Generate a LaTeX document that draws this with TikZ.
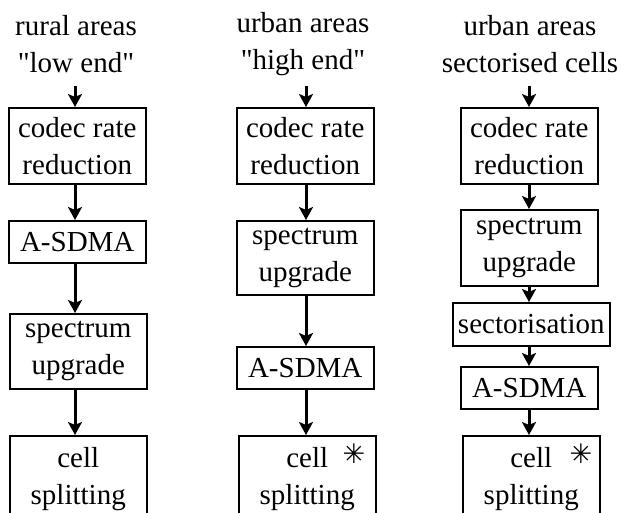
\documentclass[tikz,border=0pt]{standalone}
\usepackage{fontspec}
\setmainfont{Liberation Serif}[Ligatures=TeXOff]
\newfontfamily\symfont{DejaVu Sans}
\usetikzlibrary{arrows.meta}
\begin{document}
\begin{tikzpicture}[x=1pt,y=-1pt,
  every node/.style={font=\fontsize{29}{37}\selectfont, inner sep=0pt},
  stepbox/.style={draw, line width=1.5pt, align=center, anchor=north west},
  title/.style={align=center},
  star/.style={font=\symfont\bfseries\fontsize{27}{27}\selectfont},
  flow/.style={draw, line width=3pt, arrows={-Stealth[length=13pt 0, width=14pt 0, inset=3pt 0]}}]
\useasboundingbox (0,0) rectangle (621,512);
\clip (0,0) rectangle (621,512);
% column 1
\node[title] (t1) at (76,44) {rural areas\\"low end"};
\coordinate (s1) at (75,86);
\node[stepbox, minimum width=137pt, minimum height=76pt] (a1) at (8,107) {codec rate\\reduction};
\node[stepbox, minimum width=137pt, minimum height=42pt] (b1) at (8,220) {A-SDMA};
\node[stepbox, minimum width=137pt, minimum height=75pt] (c1) at (9,313) {spectrum\\upgrade};
\node[stepbox, minimum width=137pt, minimum height=86pt] (d1) at (9,435) {cell\\splitting};
\path[flow] (s1) -- (a1.north -| s1);
\path[flow] (a1.south -| s1) -- (b1.north -| s1);
\path[flow] (b1.south -| s1) -- (c1.north -| s1);
\path[flow] (c1.south -| s1) -- (d1.north -| s1);
% column 2
\node[title] (t2) at (303,44) {urban areas\\"high end"};
\coordinate (s2) at (306,86);
\node[stepbox, minimum width=137pt, minimum height=76pt] (a2) at (236,107) {codec rate\\reduction};
\node[stepbox, minimum width=137pt, minimum height=74pt] (b2) at (236,220) {spectrum\\upgrade};
\node[stepbox, minimum width=137pt, minimum height=42pt] (c2) at (236,346) {A-SDMA};
\node[stepbox, minimum width=137pt, minimum height=86pt] (d2) at (238,435) {cell\\splitting};
\node[star] (st2) at (354,454) {✳};
\path[flow] (s2) -- (a2.north -| s2);
\path[flow] (a2.south -| s2) -- (b2.north -| s2);
\path[flow] (b2.south -| s2) -- (c2.north -| s2);
\path[flow] (c2.south -| s2) -- (d2.north -| s2);
% column 3
\node[title] (t3) at (530,44) {urban areas\\sectorised cells};
\coordinate (s3) at (529,86);
\node[stepbox, minimum width=137pt, minimum height=76pt] (a3) at (460,107) {codec rate\\reduction};
\node[stepbox, minimum width=137pt, minimum height=76pt] (b3) at (460,209) {spectrum\\upgrade};
\node[stepbox, minimum width=157pt, minimum height=43pt] (c3) at (452,302) {sectorisation};
\node[stepbox, minimum width=137pt, minimum height=42pt] (e3) at (460,366) {A-SDMA};
\node[stepbox, minimum width=137pt, minimum height=86pt] (d3) at (462,435) {cell\\splitting};
\node[star] (st3) at (581,454) {✳};
\path[flow] (s3) -- (a3.north -| s3);
\path[flow] (a3.south -| s3) -- (b3.north -| s3);
\path[flow] (b3.south -| s3) -- (c3.north -| s3);
\path[flow] (c3.south -| s3) -- (e3.north -| s3);
\path[flow] (e3.south -| s3) -- (d3.north -| s3);
\end{tikzpicture}
\end{document}
